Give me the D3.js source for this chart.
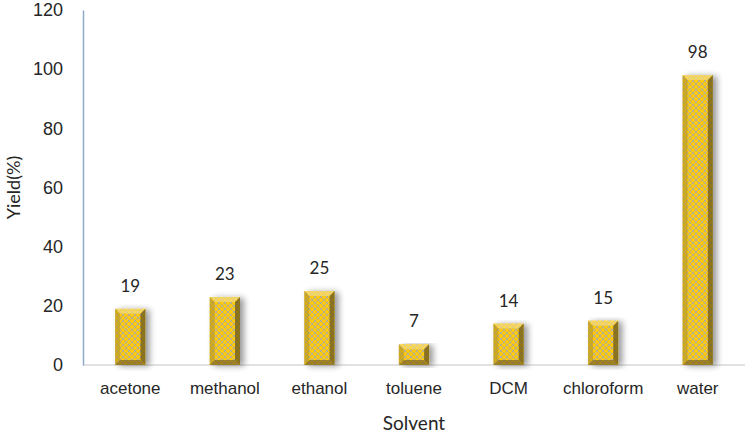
<!DOCTYPE html>
<html>
<head>
<meta charset="utf-8">
<script src="https://cdn.jsdelivr.net/npm/d3@7"></script>
<style>
  body { margin: 0; background: #fff; }
  svg { display: block; font-family: Lato, "Open Sans", sans-serif; }
  .tick text { fill: #262626; }
</style>
</head>
<body>
<svg id="chart" width="750" height="437"></svg>
<script>
const solvents = ['acetone', 'methanol', 'ethanol', 'toluene', 'DCM', 'chloroform', 'water'];
const yields = [19, 23, 25, 7, 14, 15, 98];
const yTicks = [0, 20, 40, 60, 80, 100, 120];

const width = 750, height = 437;
const margin = { top: 10, right: 5, bottom: 72, left: 83 };

const svg = d3.select('#chart');
const defs = svg.append('defs');

// crosshatch fill
const pat = defs.append('pattern')
  .attr('id', 'hatch')
  .attr('patternUnits', 'userSpaceOnUse')
  .attr('width', 6).attr('height', 6);
pat.append('rect').attr('width', 6).attr('height', 6).attr('fill', '#ffc90e');
pat.append('path').attr('d', 'M0,0 L6,6 M6,0 L0,6')
  .attr('stroke', '#b0aca0').attr('stroke-width', 0.9);

const shadow = defs.append('filter').attr('id', 'shadow')
  .attr('x', '-30%').attr('y', '-10%').attr('width', '180%').attr('height', '120%');
shadow.append('feGaussianBlur').attr('in', 'SourceAlpha').attr('stdDeviation', 3);
shadow.append('feOffset').attr('dx', 4).attr('dy', 1).attr('result', 'b');
shadow.append('feComponentTransfer').append('feFuncA').attr('type', 'linear').attr('slope', 0.4);
const merge = shadow.append('feMerge');
merge.append('feMergeNode');
merge.append('feMergeNode').attr('in', 'SourceGraphic');

const x = d3.scaleBand()
  .domain(solvents)
  .range([margin.left, width - margin.right])
  .paddingInner(0.68)
  .paddingOuter(0.34);

const y = d3.scaleLinear()
  .domain([0, 120])
  .range([height - margin.bottom, margin.top]);

// x baseline
svg.append('line')
  .attr('x1', margin.left).attr('x2', width - margin.right)
  .attr('y1', y(0)).attr('y2', y(0))
  .attr('stroke', '#d9d9d9').attr('stroke-width', 1.5);

// y axis
const yAxis = svg.append('g')
  .attr('transform', `translate(${margin.left},0)`)
  .call(d3.axisLeft(y).tickValues(yTicks).tickSize(0).tickPadding(20));
yAxis.select('.domain').attr('stroke', '#8fa9c9').attr('stroke-width', 1.5);
yAxis.selectAll('text').style('font-size', '18px');

// x axis labels
const xAxis = svg.append('g')
  .attr('transform', `translate(0,${y(0)})`)
  .call(d3.axisBottom(x).tickSize(0).tickPadding(17));
xAxis.select('.domain').remove();
xAxis.selectAll('text').style('font-size', '17px');

// bars
const bev = 5;
const bars = svg.selectAll('.bar')
  .data(solvents)
  .enter()
  .append('g')
  .attr('class', 'bar')
  .attr('filter', 'url(#shadow)');

bars.each(function (d, i) {
  const g = d3.select(this);
  const x0 = x(d), w = x.bandwidth();
  const y0 = y(yields[i]), y1 = y(0);
  const b = Math.min(bev, (y1 - y0) / 2);
  g.append('rect').attr('x', x0).attr('y', y0).attr('width', w).attr('height', y1 - y0)
    .attr('fill', 'url(#hatch)');
  // bevel edges
  g.append('path').attr('d', `M${x0},${y0} L${x0 + w},${y0} L${x0 + w - b},${y0 + b} L${x0 + b},${y0 + b} Z`)
    .attr('fill', '#f3dc7a').attr('opacity', 0.7);
  g.append('path').attr('d', `M${x0},${y0} L${x0 + b},${y0 + b} L${x0 + b},${y1 - b} L${x0},${y1} Z`)
    .attr('fill', '#b89a2a').attr('opacity', 0.65);
  g.append('path').attr('d', `M${x0 + w},${y0} L${x0 + w},${y1} L${x0 + w - b},${y1 - b} L${x0 + w - b},${y0 + b} Z`)
    .attr('fill', '#6b5818').attr('opacity', 0.75);
  g.append('path').attr('d', `M${x0},${y1} L${x0 + b},${y1 - b} L${x0 + w - b},${y1 - b} L${x0 + w},${y1} Z`)
    .attr('fill', '#7a6420').attr('opacity', 0.7);
});

// value labels
svg.selectAll('.val')
  .data(solvents)
  .enter()
  .append('text')
  .attr('class', 'val')
  .attr('x', d => x(d) + x.bandwidth() / 2)
  .attr('y', (d, i) => y(yields[i]) - 17)
  .attr('text-anchor', 'middle')
  .style('font-size', '17px')
  .attr('fill', '#262626')
  .text((d, i) => yields[i]);

// axis titles
svg.append('text')
  .attr('x', (margin.left + width - margin.right) / 2)
  .attr('y', 430)
  .attr('text-anchor', 'middle')
  .style('font-size', '19px')
  .attr('fill', '#262626')
  .text('Solvent');

svg.append('text')
  .attr('transform', `translate(20,${(y(0) + y(120)) / 2}) rotate(-90)`)
  .attr('text-anchor', 'middle')
  .style('font-size', '18px')
  .attr('fill', '#262626')
  .text('Yield(%)');
</script>
</body>
</html>
